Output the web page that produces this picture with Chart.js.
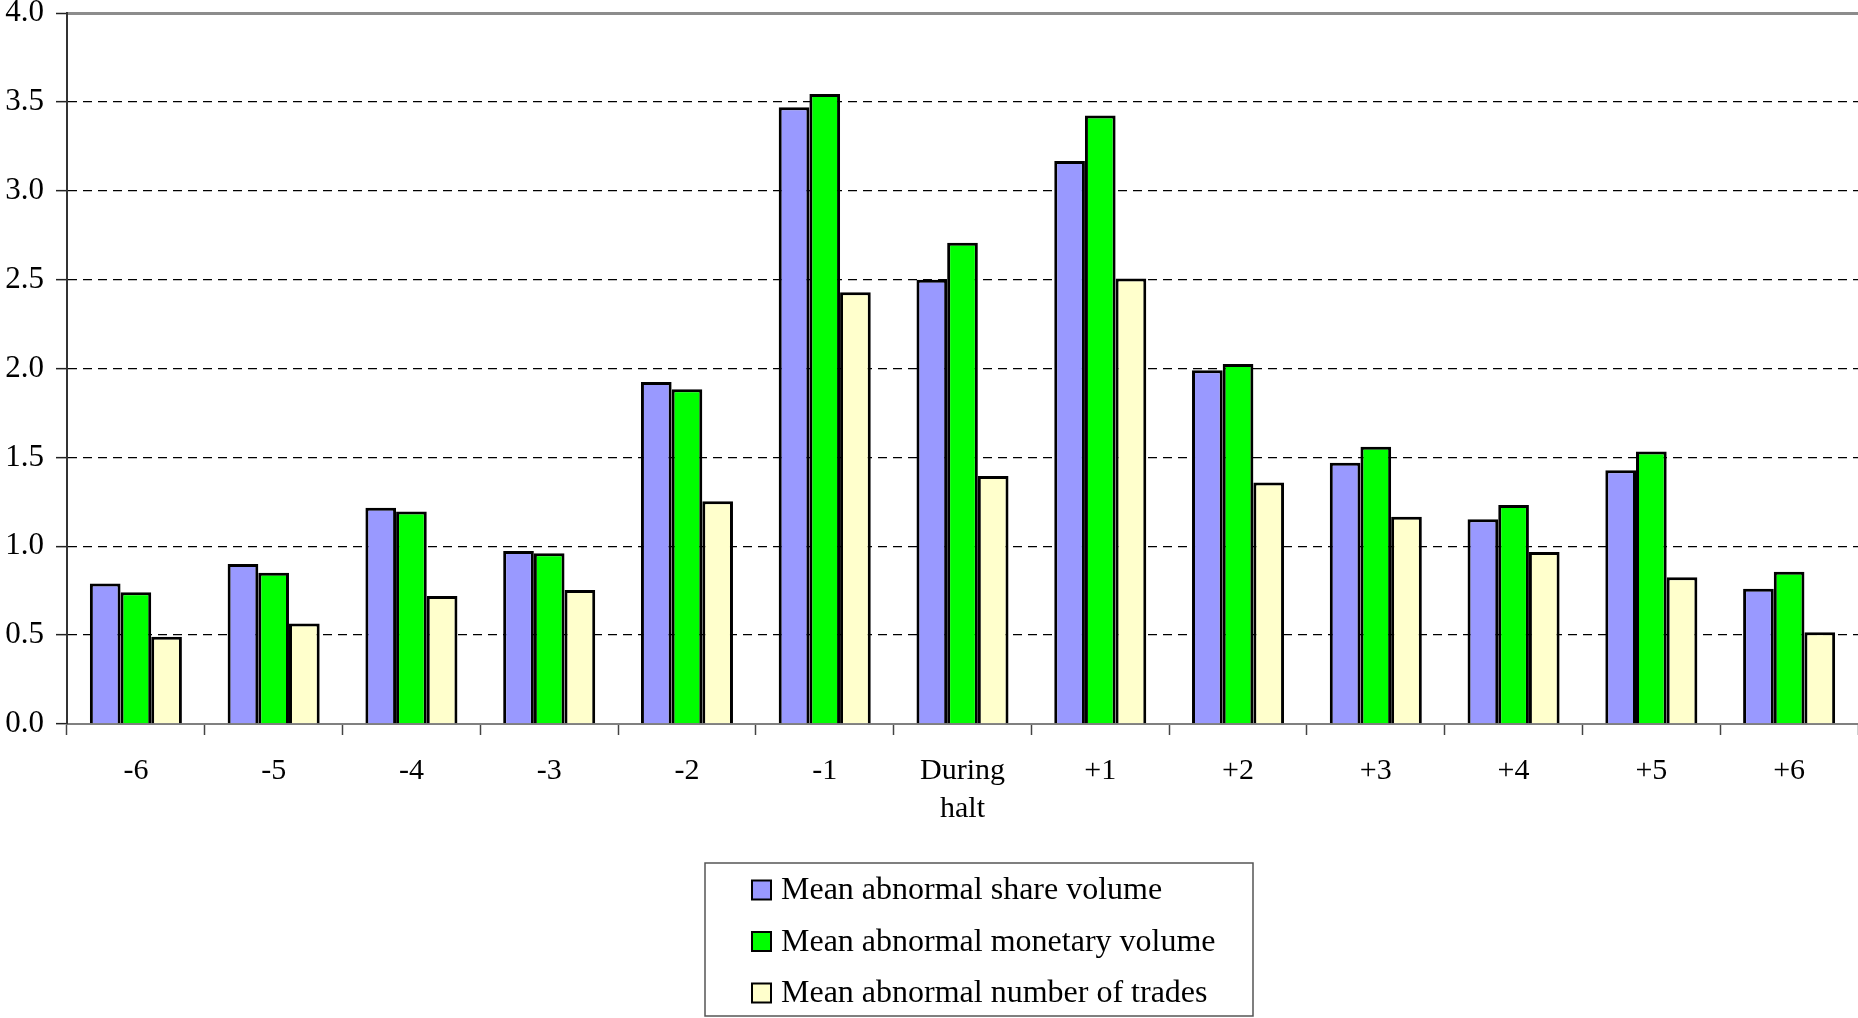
<!DOCTYPE html>
<html>
<head>
<meta charset="utf-8">
<title>Mean abnormal trading activity around halts</title>
<script src="https://cdn.jsdelivr.net/npm/chart.js@4.4.1/dist/chart.umd.min.js"></script>
<style>
  html, body { margin: 0; padding: 0; background: #ffffff; overflow: hidden; }
  #wrap { position: relative; width: 1858px; height: 1018px; }
</style>
</head>
<body>
<div id="wrap"><canvas id="chart"></canvas></div>
<script>
// Event-window categories (x axis)
const categories = ['-6', '-5', '-4', '-3', '-2', '-1', ['During', 'halt'], '+1', '+2', '+3', '+4', '+5', '+6'];

// Series values
const shareVolume    = [0.790, 0.900, 1.217, 0.973, 1.924, 3.470, 2.500, 3.167, 1.990, 1.470, 1.152, 1.427, 0.761];
const monetaryVolume = [0.741, 0.851, 1.195, 0.960, 1.883, 3.544, 2.708, 3.424, 2.025, 1.560, 1.232, 1.533, 0.857];
const numberOfTrades = [0.491, 0.566, 0.720, 0.754, 1.253, 2.429, 1.395, 2.507, 1.358, 1.166, 0.968, 0.825, 0.516];

const seriesNames = ['Mean abnormal share volume', 'Mean abnormal monetary volume', 'Mean abnormal number of trades'];

// Value axis range and tick spacing
const yMin = 0;
const yMax = 4;
const yStep = 0.5;

const SERIF = "'Liberation Serif', 'Times New Roman', Times, serif";
Chart.defaults.font.family = SERIF;
Chart.defaults.color = '#000000';

// Boxed, vertically stacked legend drawn under the plot
const boxLegend = {
  id: 'boxLegend',
  afterDraw(chart, args, opts) {
    const ctx = chart.ctx;
    ctx.save();
    ctx.lineWidth = opts.frameWidth;
    ctx.strokeStyle = opts.frameColor;
    ctx.strokeRect(opts.left, opts.top, opts.right - opts.left, opts.bottom - opts.top);
    ctx.font = opts.fontSize + 'px ' + SERIF;
    ctx.textBaseline = 'middle';
    ctx.textAlign = 'left';
    chart.data.datasets.forEach((ds, i) => {
      const cy = opts.firstRow + i * opts.rowGap;
      ctx.fillStyle = ds.backgroundColor;
      ctx.fillRect(opts.swatchX, cy - opts.swatch / 2, opts.swatch, opts.swatch);
      ctx.lineWidth = 2;
      ctx.strokeStyle = '#000000';
      ctx.strokeRect(opts.swatchX, cy - opts.swatch / 2, opts.swatch, opts.swatch);
      ctx.fillStyle = '#000000';
      ctx.fillText(ds.label, opts.textX, cy + 1);
    });
    ctx.restore();
  }
};

const barStyle = { borderColor: '#000000', borderWidth: 3, borderSkipped: 'start' };

new Chart(document.getElementById('chart'), {
  type: 'bar',
  data: {
    labels: categories,
    datasets: [
      Object.assign({ label: seriesNames[0], data: shareVolume,    backgroundColor: '#9999FF' }, barStyle),
      Object.assign({ label: seriesNames[1], data: monetaryVolume, backgroundColor: '#00FF00' }, barStyle),
      Object.assign({ label: seriesNames[2], data: numberOfTrades, backgroundColor: '#FFFFCC' }, barStyle)
    ]
  },
  options: {
    responsive: true,
    maintainAspectRatio: false,
    animation: false,
    layout: { padding: { left: 0, right: 0, top: 13, bottom: 0 } },
    datasets: { bar: { categoryPercentage: 0.668, barPercentage: 1.0 } },
    plugins: {
      legend: { display: false },
      tooltip: { enabled: false },
      boxLegend: {
        left: 705, top: 863, right: 1253, bottom: 1016,
        frameColor: '#555555', frameWidth: 1.5,
        swatchX: 752, swatch: 19, textX: 781,
        firstRow: 890, rowGap: 51.5, fontSize: 32
      }
    },
    scales: {
      x: {
        position: 'bottom',
        grid: {
          offset: true,
          drawOnChartArea: false,
          drawTicks: true,
          tickLength: 11,
          tickColor: '#444444',
          tickWidth: 1.5
        },
        border: { color: '#808080', width: 2 },
        ticks: {
          padding: 17,
          maxRotation: 0,
          autoSkip: false,
          color: '#000000',
          font: { size: 30, lineHeight: 1.27 }
        },
        afterFit(scale) {
          scale.height = 294;
          scale.paddingLeft = 0;
          scale.paddingRight = 0;
        }
      },
      y: {
        min: yMin,
        max: yMax,
        grid: {
          color: (c) => {
            const v = c.tick ? c.tick.value : null;
            if (v === yMin) return 'rgba(0,0,0,0)';
            if (v === yMax) return '#8c8c8c';
            return '#000000';
          },
          lineWidth: (c) => (c.tick && c.tick.value === yMax ? 3 : 1.3),
          tickColor: '#222222',
          tickWidth: 1.5,
          tickLength: 11
        },
        border: {
          color: '#333333',
          width: 2,
          dash: (c) => (c.tick && c.tick.value === yMax ? [] : [9, 6])
        },
        ticks: {
          stepSize: yStep,
          padding: 12,
          color: '#000000',
          font: { size: 31 },
          callback: (v) => Number(v).toFixed(1)
        },
        afterFit(scale) {
          scale.width = 67;
          scale.paddingTop = 0;
          scale.paddingBottom = 0;
        }
      }
    }
  },
  plugins: [boxLegend]
});
</script>
</body>
</html>
